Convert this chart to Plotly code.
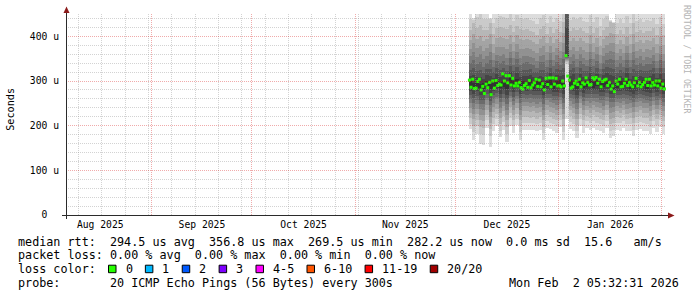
import math
import pandas as pd
import plotly.graph_objects as go

# ---------------- data ----------------
x_start = "2025-08-06 05:32:31"
x_end = "2026-02-02 05:32:31"
smoke_start = "2025-12-05"          # first day with data (daily smoke columns)
median_start = "2025-12-05 06:00"   # 12h median steps

# median RTT (microseconds), one value per 12 h
median_us = [
    302, 286, 304, 283, 284, 299, 304, 280, 288, 272, 293, 285, 297, 269.5, 300, 284,
    301, 290, 293, 291, 316, 300, 312, 296, 312, 291, 306, 289, 295, 289, 297, 285,
    282, 290, 294, 286, 301, 285, 291, 296, 304, 288, 302, 287, 294, 280, 306, 292,
    307, 287, 307, 293, 306, 289,
    290, 287, 300, 289, 356.8, 311, 302, 284, 287, 295, 300, 292, 304, 287, 296, 293,
    307, 297, 291, 292, 307, 304, 308, 295, 304, 287, 299, 302, 304, 290, 297, 282,
    289, 276, 300, 293, 304, 287, 288, 295, 304, 290, 297, 291, 287, 296, 306, 289,
    297, 287, 292, 297, 304, 290, 304, 289, 297, 291, 300, 289, 300, 284, 293, 282.2,
]

# sorted ping RTTs per day (microseconds), rank 1 (fastest) .. rank 20 (slowest)
p01 = [192, 168, 182, 159, 157, 195, 153, 188, 200, 175, 191, 163, 200, 183, 201, 169, 191, 191, 190, 190,
       188, 190, 167, 195, 192, 187, 184, 198, 169, 215, 193, 188, 173, 199, 184, 194, 190, 194, 191, 187,
       183, 195, 173, 176, 191, 189, 194, 187, 188, 177, 191, 193, 189, 188, 181, 195, 185, 196, 181]
p02 = [204, 185, 199, 181, 179, 212, 176, 204, 214, 189, 208, 182, 217, 199, 215, 185, 207, 207, 206, 206,
       204, 206, 183, 211, 207, 203, 200, 213, 185, 338, 209, 204, 187, 215, 200, 210, 205, 210, 207, 203,
       199, 211, 189, 191, 207, 205, 210, 203, 204, 191, 207, 209, 205, 204, 197, 211, 201, 212, 197]
p03 = [217, 200, 213, 197, 195, 224, 192, 217, 226, 203, 221, 197, 229, 212, 227, 199, 220, 220, 218, 219,
       216, 219, 198, 224, 219, 216, 213, 225, 200, 342, 222, 216, 201, 227, 213, 222, 217, 223, 219, 216,
       212, 223, 203, 205, 220, 217, 223, 215, 217, 205, 219, 222, 217, 217, 210, 223, 214, 224, 210]
p04 = [229, 214, 226, 212, 210, 236, 207, 230, 238, 217, 233, 212, 241, 225, 239, 213, 232, 232, 230, 232,
       228, 231, 212, 236, 231, 229, 225, 237, 214, 345, 234, 228, 214, 239, 225, 234, 229, 235, 231, 229,
       224, 235, 216, 218, 232, 229, 235, 227, 229, 218, 231, 234, 229, 229, 222, 235, 226, 236, 222]
p05 = [240, 227, 238, 225, 223, 247, 220, 241, 249, 229, 244, 225, 252, 236, 250, 225, 243, 243, 241, 243,
       239, 242, 224, 247, 242, 240, 236, 248, 226, 348, 245, 239, 226, 250, 236, 245, 240, 246, 242, 240,
       235, 246, 228, 230, 243, 240, 246, 238, 240, 230, 242, 245, 240, 240, 233, 246, 237, 247, 233]
p06 = [250, 238, 249, 237, 234, 257, 231, 251, 259, 240, 254, 236, 262, 246, 260, 236, 253, 253, 251, 253,
       249, 252, 235, 257, 252, 250, 246, 258, 237, 350, 255, 249, 237, 260, 246, 255, 250, 256, 252, 250,
       245, 256, 239, 241, 253, 250, 256, 248, 250, 241, 252, 255, 250, 250, 243, 256, 247, 257, 243]
p07 = [259, 251, 257, 248, 248, 263, 246, 259, 265, 252, 262, 249, 267, 256, 266, 251, 261, 260, 263, 259,
       259, 260, 249, 263, 262, 258, 258, 265, 250, 352, 261, 259, 251, 266, 256, 262, 262, 262, 262, 258,
       257, 264, 252, 252, 259, 260, 262, 260, 258, 253, 260, 261, 260, 257, 256, 264, 257, 263, 253]
p08 = [268, 261, 267, 258, 258, 272, 256, 268, 274, 262, 271, 259, 276, 265, 275, 261, 270, 269, 272, 268,
       268, 269, 259, 272, 271, 267, 267, 274, 260, 353, 270, 268, 260, 275, 265, 271, 271, 271, 271, 267,
       266, 273, 261, 261, 268, 269, 271, 269, 267, 262, 269, 270, 269, 266, 265, 273, 266, 272, 262]
p09 = [277, 271, 277, 268, 268, 281, 266, 277, 283, 272, 280, 269, 286, 275, 284, 271, 279, 278, 281, 277,
       277, 278, 269, 281, 280, 276, 276, 283, 270, 355, 280, 277, 269, 284, 274, 280, 280, 280, 280, 276,
       275, 282, 270, 270, 277, 278, 280, 278, 276, 271, 278, 279, 278, 275, 274, 282, 275, 281, 271]
p10 = [286, 283, 284, 280, 282, 288, 281, 285, 289, 284, 287, 283, 293, 287, 291, 285, 288, 285, 292, 282,
       288, 286, 283, 287, 289, 283, 288, 290, 283, 356, 289, 288, 282, 290, 284, 287, 291, 285, 289, 283,
       287, 290, 283, 281, 284, 288, 286, 291, 283, 282, 287, 285, 289, 282, 287, 290, 284, 288, 282]
p11 = [299, 296, 297, 293, 295, 301, 294, 298, 302, 298, 300, 297, 307, 301, 304, 299, 301, 298, 305, 295,
       301, 299, 296, 300, 302, 296, 301, 303, 296, 358, 302, 301, 295, 303, 297, 300, 304, 298, 302, 296,
       300, 303, 296, 294, 297, 301, 299, 304, 296, 295, 300, 298, 302, 295, 300, 303, 297, 301, 295]
p12 = [312, 313, 308, 309, 304, 313, 312, 307, 315, 310, 315, 307, 321, 310, 319, 308, 312, 312, 314, 308,
       308, 312, 310, 308, 317, 307, 314, 312, 313, 420, 312, 315, 304, 316, 309, 309, 319, 308, 315, 303,
       313, 318, 314, 312, 306, 312, 307, 317, 305, 312, 310, 311, 309, 309, 311, 316, 306, 316, 304]
p13 = [325, 328, 323, 324, 319, 326, 327, 320, 328, 325, 328, 322, 334, 323, 332, 323, 325, 325, 327, 321,
       321, 325, 325, 321, 330, 320, 327, 325, 328, 460, 325, 328, 319, 329, 322, 322, 332, 321, 328, 316,
       326, 331, 329, 327, 319, 325, 320, 330, 318, 327, 323, 324, 322, 322, 324, 329, 319, 329, 317]
p14 = [340, 348, 337, 343, 332, 341, 347, 331, 344, 340, 345, 335, 351, 336, 350, 335, 340, 342, 339, 336,
       330, 342, 342, 332, 347, 333, 343, 336, 349, 465, 338, 345, 332, 345, 337, 333, 350, 334, 345, 326,
       341, 348, 350, 348, 331, 340, 331, 347, 331, 347, 336, 340, 333, 339, 337, 344, 330, 346, 329]
p15 = [355, 365, 354, 360, 349, 356, 364, 346, 359, 357, 360, 352, 366, 351, 365, 352, 355, 357, 354, 351,
       345, 357, 359, 347, 362, 348, 358, 351, 366, 470, 353, 360, 349, 360, 352, 348, 365, 349, 360, 341,
       356, 363, 367, 365, 346, 355, 346, 362, 346, 364, 351, 355, 348, 354, 352, 359, 345, 361, 344]
p16 = [372, 384, 373, 379, 368, 373, 383, 363, 376, 376, 377, 371, 383, 368, 382, 371, 372, 374, 371, 368,
       362, 374, 378, 364, 379, 365, 375, 368, 385, 475, 370, 377, 368, 377, 369, 365, 382, 366, 377, 358,
       373, 380, 386, 384, 363, 372, 363, 379, 363, 383, 368, 372, 365, 371, 369, 376, 362, 378, 361]
p17 = [392, 406, 395, 401, 390, 393, 405, 383, 396, 398, 397, 393, 403, 388, 402, 393, 392, 394, 391, 388,
       382, 394, 400, 384, 399, 385, 395, 388, 407, 480, 390, 397, 390, 397, 389, 385, 402, 386, 397, 378,
       393, 400, 408, 406, 383, 392, 383, 399, 383, 405, 388, 392, 385, 391, 389, 396, 382, 398, 381]
p18 = [414, 430, 419, 425, 414, 415, 429, 405, 418, 422, 419, 417, 425, 410, 424, 417, 414, 416, 413, 410,
       404, 416, 424, 406, 421, 407, 417, 410, 431, 485, 412, 419, 414, 419, 411, 407, 424, 408, 419, 400,
       415, 422, 432, 430, 405, 414, 405, 421, 405, 429, 410, 414, 407, 413, 411, 418, 404, 420, 403]
p19 = [438, 436, 443, 449, 438, 439, 438, 429, 442, 446, 443, 441, 449, 434, 448, 441, 438, 440, 437, 434,
       428, 440, 448, 430, 445, 431, 441, 434, 455, 490, 436, 443, 438, 443, 435, 431, 448, 432, 443, 424,
       439, 446, 434, 430, 429, 438, 429, 445, 429, 453, 434, 438, 431, 437, 435, 442, 428, 444, 427]
p20 = [470, 440, 482, 465, 490, 476, 442, 488, 472, 495, 468, 480, 486, 474, 462, 491, 478, 469, 483, 466,
       487, 471, 493, 475, 464, 481, 473, 489, 477, 520, 467, 484, 472, 490, 463, 479, 486, 470, 482, 465,
       488, 474, 436, 432, 480, 469, 485, 476, 462, 491, 473, 483, 468, 487, 471, 478, 466, 484, 475]

ranks = [p01, p02, p03, p04, p05, p06, p07, p08, p09, p10,
         p11, p12, p13, p14, p15, p16, p17, p18, p19, p20]

y_range = [0, 450]
y_tickvals = [0, 100, 200, 300, 400]
y_ticktext = ["0\u00a0\u00a0", "100 u", "200 u", "300 u", "400 u"]

loss_labels = ["0", "1", "2", "3", "4-5", "6-10", "11-19", "20/20"]
loss_colors = ["#26ff00", "#00b8ff", "#0059ff", "#7e00ff", "#ff00ff", "#ff5500", "#ff0000", "#a10000"]

line_median = "median rtt:  294.5 us avg  356.8 us max  269.5 us min  282.2 us now  0.0 ms sd  15.6   am/s"
line_loss = "packet loss: 0.00 % avg  0.00 % max  0.00 % min  0.00 % now"
line_color = "loss color:"
line_probe = "probe:       20 ICMP Echo Pings (56 Bytes) every 300s"
line_date = "Mon Feb  2 05:32:31 2026"
y_title = "Seconds"
watermark = "RRDTOOL / TOBI OETIKER"

# ---------------- geometry / style ----------------
W, H = 697, 297
PL, PR, PT, PB = 66, 666, 14, 215  # plot area in pixels
MONO = "DejaVu Sans Mono"
CW = 7.07  # legend char width


def px(x):
    return (x - PL) / (PR - PL)


def py(y):
    return (PB - y) / (PB - PT)


def nb(s):
    return s.replace(" ", "\u00a0")


T0 = pd.Timestamp(x_start)
T1 = pd.Timestamp(x_end)


def snap_x(ts):
    # pixel-centred paper x for a timestamp on the x scale
    p = PL + (ts - T0) / (T1 - T0) * (PR - PL)
    return px(math.floor(p) + 0.5)


def snap_y(v):
    p = PB - (v - y_range[0]) / (y_range[1] - y_range[0]) * (PB - PT)
    return py(math.floor(p) + 0.5)


days = pd.date_range(smoke_start, periods=len(p01), freq="D")
med_t = pd.date_range(median_start, periods=len(median_us), freq="12h")
DAY_MS = 86400000

fig = go.Figure()
half = len(ranks) // 2
for i in range(half):
    lo = ranks[i]
    hi = ranks[len(ranks) - 1 - i]
    g = int(190 / half * (half - 1 - i)) + 50
    fig.add_trace(go.Bar(
        x=days, y=[h - l for h, l in zip(hi, lo)], base=lo,
        width=DAY_MS, offset=0,
        marker=dict(color=f"rgb({g},{g},{g})", line=dict(width=0)),
        hoverinfo="skip", showlegend=False,
    ))

fig.add_trace(go.Scatter(
    x=med_t, y=median_us, mode="markers",
    marker=dict(symbol="square", size=3, color=loss_colors[0], line=dict(width=0)),
    showlegend=False, hoverinfo="skip",
))

fig.update_layout(
    width=W, height=H,
    margin=dict(l=PL, r=W - PR, t=PT, b=H - PB, autoexpand=False),
    paper_bgcolor="white", plot_bgcolor="white",
    barmode="overlay", bargap=0,
    showlegend=False,
    font=dict(family=MONO, size=9.7, color="black"),
    xaxis=dict(
        type="date", range=[x_start, x_end],
        dtick="M1", tick0="2025-08-01", tickformat="%b %Y", ticklabelmode="period",
        showgrid=False, ticks="", showline=False, zeroline=False,
        tickfont=dict(family=MONO, size=9.7, color="black"),
        ticklabelstandoff=2,
    ),
    yaxis=dict(
        range=y_range, tickvals=y_tickvals, ticktext=y_ticktext,
        showgrid=False, ticks="", showline=False, zeroline=False,
        tickfont=dict(family=MONO, size=9.7, color="black"),
        ticklabelstandoff=6,
    ),
)

shapes = []
minor_grid = "rgba(150,150,150,0.42)"
major_grid = "rgba(210,0,0,0.33)"
DASH = "1px,1px"

# grid drawn on top of the smoke (as rrdtool does), snapped to pixel centres
month_starts = [m for m in pd.date_range("2025-08-01", x_end, freq="MS") if m >= T0]
for wk in pd.date_range("2025-08-10", x_end, freq="7D"):
    if wk in month_starts:
        continue
    xx = snap_x(wk)
    shapes.append(dict(type="line", xref="paper", yref="paper", x0=xx, x1=xx, y0=0, y1=1,
                       layer="above", line=dict(color=minor_grid, width=1, dash=DASH)))
for m in month_starts:
    xx = snap_x(m)
    shapes.append(dict(type="line", xref="paper", yref="paper", x0=xx, x1=xx, y0=0, y1=1,
                       layer="above", line=dict(color=major_grid, width=1, dash=DASH)))
for v in range(20, y_range[1], 20):
    col = major_grid if v % 100 == 0 else minor_grid
    yy = snap_y(v)
    shapes.append(dict(type="line", xref="paper", yref="paper", x0=0, x1=1, y0=yy, y1=yy,
                       layer="above", line=dict(color=col, width=1, dash=DASH)))

axis_col = "#2b2b2b"
arrow_col = "#8b1a1a"
# x axis line + arrow
shapes.append(dict(type="line", xref="paper", yref="paper",
                   x0=px(62), x1=px(669), y0=py(215.5), y1=py(215.5),
                   line=dict(color=axis_col, width=1)))
shapes.append(dict(type="path", xref="paper", yref="paper",
                   path=f"M {px(668)} {py(212.5)} L {px(674.5)} {py(215.5)} L {px(668)} {py(218.5)} Z",
                   fillcolor=arrow_col, line=dict(width=0)))
# y axis line + arrow
shapes.append(dict(type="line", xref="paper", yref="paper",
                   x0=px(66.5), x1=px(66.5), y0=py(219), y1=py(12),
                   line=dict(color=axis_col, width=1)))
shapes.append(dict(type="path", xref="paper", yref="paper",
                   path=f"M {px(63.5)} {py(13)} L {px(66.5)} {py(6.5)} L {px(69.5)} {py(13)} Z",
                   fillcolor=arrow_col, line=dict(width=0)))

annotations = []


def text(x, y, s, anchor="left", size=11.75, color="black", angle=0):
    annotations.append(dict(
        xref="paper", yref="paper", x=px(x), y=py(y), text=nb(s),
        xanchor=anchor, yanchor="middle", showarrow=False, textangle=angle,
        font=dict(family=MONO, size=size, color=color),
    ))


text(16, 241.5, line_median)
text(16, 255.2, line_loss)
text(16, 269, line_color)
text(16, 282.8, line_probe)
text(681, 282.8, line_date, anchor="right")

# loss colour legend
x = 108.5
for lab, col in zip(loss_labels, loss_colors):
    shapes.append(dict(type="rect", xref="paper", yref="paper",
                       x0=px(x), x1=px(x + 7.5), y0=py(265.2), y1=py(272.7),
                       fillcolor=col, line=dict(color="black", width=1)))
    text(x + 15, 269, lab)
    x = x + 15 + len(lab) * CW + 14.8

# axis title and watermark
annotations.append(dict(xref="paper", yref="paper", x=px(10.8), y=py(109),
                        text=y_title, textangle=-90, showarrow=False,
                        xanchor="center", yanchor="middle",
                        font=dict(family=MONO, size=10.2, color="black")))
annotations.append(dict(xref="paper", yref="paper", x=px(687), y=py(59),
                        text=nb(watermark), textangle=90, showarrow=False,
                        xanchor="center", yanchor="middle",
                        font=dict(family=MONO, size=8.2, color="#b4b4b4")))

fig.update_layout(shapes=shapes, annotations=annotations)
fig.write_html("out.html", config={"displayModeBar": False})
